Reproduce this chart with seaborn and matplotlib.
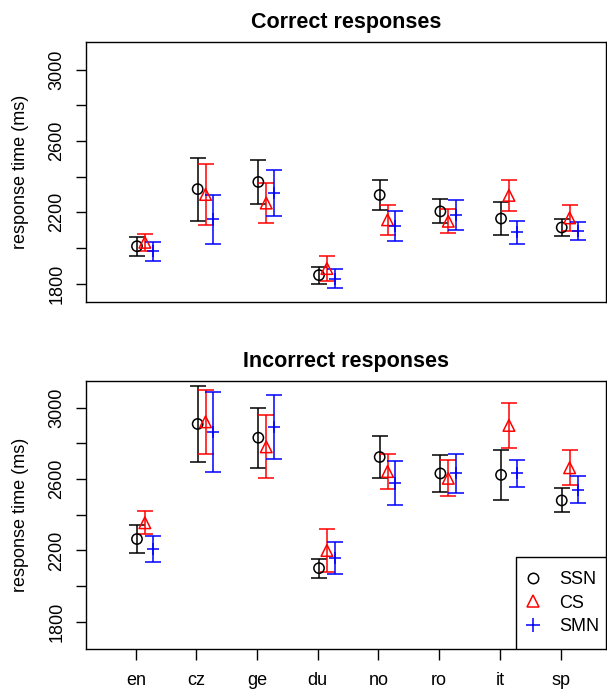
import matplotlib
matplotlib.use('Agg')
import matplotlib.pyplot as plt
import seaborn as sns
import pandas as pd
from matplotlib.lines import Line2D
from matplotlib.patches import Rectangle

languages = ['en', 'cz', 'ge', 'du', 'no', 'ro', 'it', 'sp']
groups = ['SSN', 'CS', 'SMN']

# mean response times (ms) and standard errors
correct_ssn = [2010, 2330, 2370, 1848, 2297, 2205, 2165, 2115]
correct_ssn_se = [54, 177, 122, 48, 86, 67, 92, 49]
correct_cs = [2032, 2300, 2252, 1885, 2158, 2150, 2295, 2169]
correct_cs_se = [47, 170, 112, 72, 85, 66, 88, 72]
correct_smn = [1982, 2160, 2309, 1829, 2125, 2185, 2088, 2094]
correct_smn_se = [53, 136, 128, 55, 84, 86, 66, 51]

incorrect_ssn = [2264, 2908, 2831, 2101, 2723, 2631, 2623, 2480]
incorrect_ssn_se = [79, 212, 168, 54, 118, 101, 141, 67]
incorrect_cs = [2355, 2920, 2780, 2200, 2642, 2604, 2900, 2663]
incorrect_cs_se = [65, 180, 177, 120, 100, 100, 127, 97]
incorrect_smn = [2208, 2861, 2890, 2158, 2577, 2632, 2632, 2541]
incorrect_smn_se = [74, 224, 178, 88, 122, 109, 74, 75]

colors = {'SSN': 'black', 'CS': 'red', 'SMN': 'blue'}
markers = {'SSN': 'o', 'CS': '^', 'SMN': '+'}
sizes = {'SSN': 55, 'CS': 70, 'SMN': 85}
offsets = {'SSN': 0.02, 'CS': 0.15, 'SMN': 0.28}

sns.set_style('white')
plt.rcParams['font.family'] = ['Liberation Sans', 'DejaVu Sans']
plt.rcParams['text.color'] = 'black'
plt.rcParams['axes.labelcolor'] = 'black'
plt.rcParams['xtick.color'] = 'black'
plt.rcParams['ytick.color'] = 'black'


def build_df(ssn, ssn_se, cs, cs_se, smn, smn_se):
    rows = []
    for g, vals, ses in [('SSN', ssn, ssn_se), ('CS', cs, cs_se), ('SMN', smn, smn_se)]:
        for i, lang in enumerate(languages):
            rows.append({'lang': lang, 'pos': i + offsets[g], 'group': g,
                         'rt': vals[i], 'se': ses[i]})
    return pd.DataFrame(rows)


def draw_panel(ax, df, title, ylim, show_x):
    for g in groups:
        d = df[df.group == g]
        ax.errorbar(d.pos, d.rt, yerr=d.se, fmt='none', ecolor=colors[g],
                    elinewidth=1.1, capsize=5.5, capthick=1.1, zorder=2)
        if g == 'SMN':
            sns.scatterplot(x=d.pos, y=d.rt, marker='+', color=colors[g],
                            s=sizes[g], linewidth=1.1, ax=ax, zorder=3, legend=False)
        else:
            sns.scatterplot(x=d.pos, y=d.rt, marker=markers[g], facecolor='none',
                            edgecolor=colors[g], s=sizes[g], linewidth=1.1,
                            ax=ax, zorder=3, legend=False)
    ax.set_xlim(-0.82, 7.75)
    ax.set_ylim(*ylim)
    ax.set_yticks(range(1800, 3001, 200))
    ax.set_yticklabels([str(v) if v % 400 == 200 else '' for v in range(1800, 3001, 200)],
                       rotation=90, va='center')
    ax.set_ylabel('response time (ms)', fontsize=13, labelpad=14)
    ax.set_xlabel('')
    ax.set_title(title, fontsize=15.5, fontweight='bold', pad=10)
    ax.tick_params(axis='y', length=7, width=1, labelsize=13, pad=8, left=True)
    if show_x:
        ax.set_xticks(range(len(languages)))
        ax.set_xticklabels(languages)
        ax.tick_params(axis='x', length=8, width=1, labelsize=13, pad=8, bottom=True)
    else:
        ax.set_xticks([])
    for s in ax.spines.values():
        s.set_color('black')
        s.set_linewidth(1)


fig = plt.figure(figsize=(6.07, 6.96), dpi=100)
ax1 = fig.add_axes([0.1417, 0.5665, 0.8567, 0.3736])
ax2 = fig.add_axes([0.1417, 0.0671, 0.8567, 0.3859])

draw_panel(ax1, build_df(correct_ssn, correct_ssn_se, correct_cs, correct_cs_se,
                         correct_smn, correct_smn_se),
           'Correct responses', (1699, 3156), False)
draw_panel(ax2, build_df(incorrect_ssn, incorrect_ssn_se, incorrect_cs, incorrect_cs_se,
                         incorrect_smn, incorrect_smn_se),
           'Incorrect responses', (1647, 3150), True)

# legend box in the lower right corner
ax2.add_patch(Rectangle((0.8263, 0), 0.1737, 0.3436, transform=ax2.transAxes,
                        facecolor='white', edgecolor='black', linewidth=1, zorder=4))
handles = [Line2D([], [], linestyle='none', marker='o', markerfacecolor='none',
                  markeredgecolor='black', markersize=7.5, markeredgewidth=1.1),
           Line2D([], [], linestyle='none', marker='^', markerfacecolor='none',
                  markeredgecolor='red', markersize=8.5, markeredgewidth=1.1),
           Line2D([], [], linestyle='none', marker='+', color='blue',
                  markersize=9.5, markeredgewidth=1.1)]
leg = ax2.legend(handles, groups, loc='center', bbox_to_anchor=(0.913, 0.172),
                 borderaxespad=0, borderpad=0, fontsize=13, frameon=False,
                 handlelength=1.1, handletextpad=0.9, labelspacing=0.35)
leg.set_zorder(5)

fig.savefig('out.png', dpi=100)
